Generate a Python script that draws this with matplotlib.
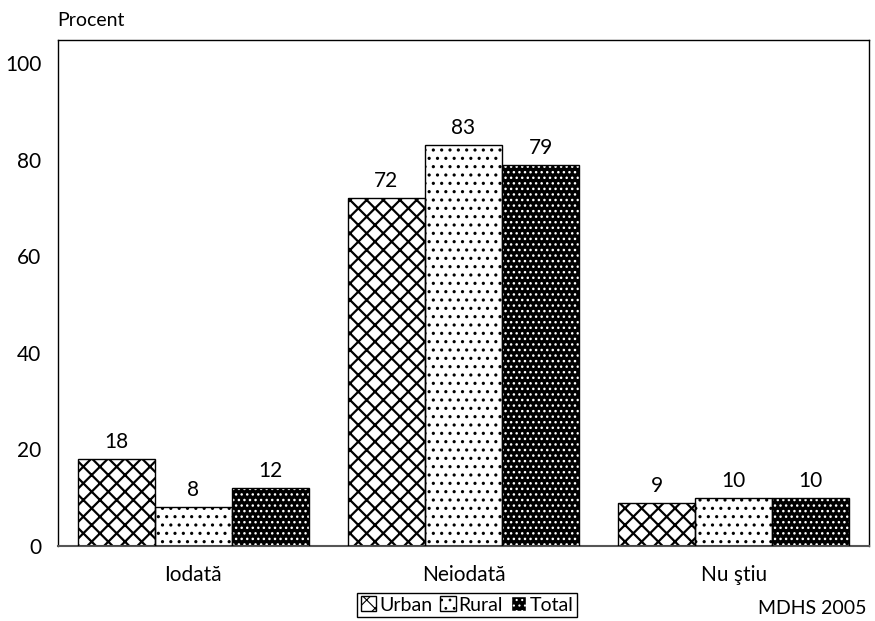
import matplotlib
matplotlib.use("Agg")
import matplotlib.pyplot as plt
from matplotlib.patches import Patch
import numpy as np

plt.rcParams['font.family'] = ['Lato', 'DejaVu Sans']

categories = ["Iodată", "Neiodată", "Nu ştiu"]
series = ["Urban", "Rural", "Total"]
urban = [18, 72, 9]
rural = [8, 83, 10]
total = [12, 79, 10]
yticks = [0, 20, 40, 60, 80, 100]

fig = plt.figure(figsize=(8.75, 6.21), dpi=100)
ax = fig.add_axes([58 / 875, 75 / 621, 811 / 875, 506 / 621])

x = np.arange(len(categories))
w = 0.285
styles = [
    dict(facecolor="white", edgecolor="black", hatch="xx"),
    dict(facecolor="white", edgecolor="black", hatch=".."),
    dict(facecolor="black", edgecolor="white", hatch="..."),
]
hatch_lw = [1.6, 1.1, 1.0]
for i, (vals, st) in enumerate(zip([urban, rural, total], styles)):
    plt.rcParams['hatch.linewidth'] = hatch_lw[i]
    pos = x + (i - 1) * w
    ax.bar(pos, vals, width=w, linewidth=0, zorder=2, **st)
    ax.bar(pos, vals, width=w, fill=False, edgecolor="black", linewidth=1.0, zorder=3)
    for p, v in zip(pos, vals):
        ax.annotate(f"{v}", (p, v), xytext=(0, 5), textcoords="offset points",
                    ha="center", va="bottom", fontsize=15)

ax.set_xlim(-0.5, 2.5)
ax.set_ylim(0, 104.8)
ax.set_yticks(yticks)
ax.set_xticks(x)
ax.set_xticklabels(categories)
ax.tick_params(axis="both", length=0, labelsize=15)
ax.tick_params(axis="y", pad=12)
ax.tick_params(axis="x", pad=14)
for s in ["top", "right", "left"]:
    ax.spines[s].set_color("black")
    ax.spines[s].set_linewidth(1.0)
ax.spines["bottom"].set_color("#555555")
ax.spines["bottom"].set_linewidth(1.5)

fig.text(57 / 875, 1 - 20 / 621, "Procent", fontsize=14, ha="left", va="center")
fig.text(866 / 875, 1 - 608 / 621, "MDHS 2005", fontsize=14, ha="right", va="center")

legend_lw = [1.0, 0.8, 0.8]
handles = []
for st, lw in zip(styles, legend_lw):
    plt.rcParams['hatch.linewidth'] = lw
    handles.append(Patch(**st))
leg = fig.legend(handles, series, loc="center", bbox_to_anchor=(467 / 875, 1 - 605 / 621),
                 ncol=3, fontsize=14, handlelength=0.8, handleheight=0.8,
                 handletextpad=0.15, columnspacing=0.4, borderpad=0.2,
                 fancybox=False, edgecolor="black", framealpha=1)
leg.get_frame().set_linewidth(1.0)

fig.savefig("out.png", dpi=100)
